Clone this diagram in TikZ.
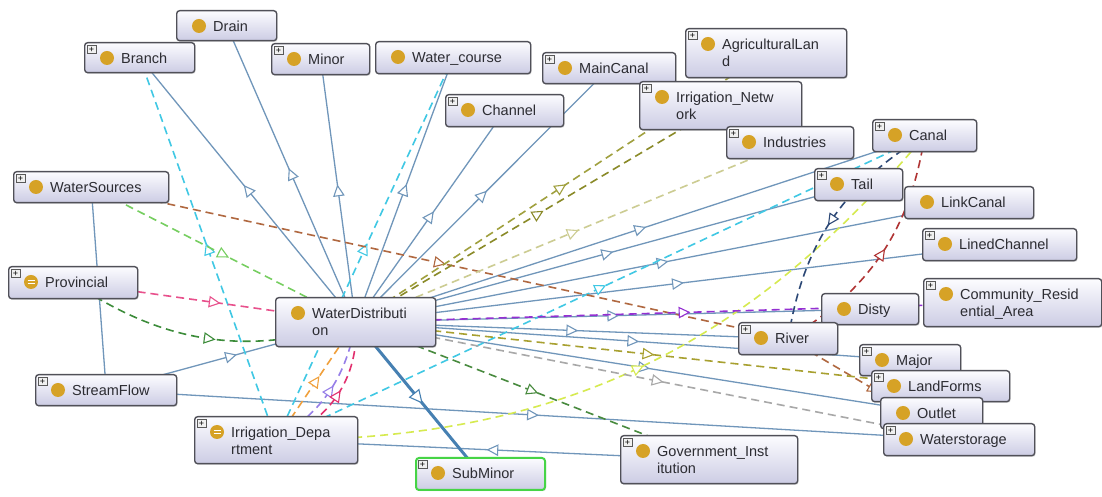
\documentclass[tikz,border=0pt]{standalone}
\usepackage{fontspec}
\setmainfont{Liberation Sans}
\usetikzlibrary{decorations.markings,shadows}

\pgfdeclarelayer{background}
\pgfdeclarelayer{edges}
\pgfsetlayers{background,edges,main}

% palette
\definecolor{boxline}{RGB}{80,80,88}
\definecolor{boxtop}{RGB}{252,252,255}
\definecolor{boxbottom}{RGB}{204,204,228}
\definecolor{labeltext}{RGB}{44,44,50}
\definecolor{gold}{RGB}{214,162,38}
\definecolor{subline}{RGB}{112,150,186}
\definecolor{thickline}{RGB}{70,128,178}
\definecolor{greenframe}{RGB}{70,212,70}
\definecolor{cyanE}{RGB}{64,200,228}
\definecolor{yellowE}{RGB}{214,234,80}
\definecolor{redE}{RGB}{176,52,52}
\definecolor{navyE}{RGB}{44,72,118}
\definecolor{brownE}{RGB}{176,104,64}
\definecolor{greenE}{RGB}{118,206,96}
\definecolor{pinkE}{RGB}{232,80,140}
\definecolor{dkgreenE}{RGB}{60,140,58}
\definecolor{orangeE}{RGB}{240,160,60}
\definecolor{lavE}{RGB}{150,126,232}
\definecolor{crimE}{RGB}{226,48,110}
\definecolor{oliveA}{RGB}{160,160,62}
\definecolor{oliveB}{RGB}{138,138,40}
\definecolor{khakiE}{RGB}{204,204,146}
\definecolor{purpleE}{RGB}{148,48,210}
\definecolor{oliveC}{RGB}{168,160,48}
\definecolor{grayE}{RGB}{168,168,168}
\definecolor{govgreen}{RGB}{72,138,62}

\tikzset{
  cls/.style={draw=boxline, line width=1.4pt, rounded corners=3pt,
    top color=boxtop, bottom color=boxbottom, anchor=north west, inner sep=0pt,
    drop shadow={opacity=0.25, shadow xshift=1pt, shadow yshift=-1.2pt}},
  dot/.style={circle, fill=gold, minimum size=14pt, inner sep=0pt},
  plusbox/.style={draw=gray!70!black, fill=gray!12, line width=0.5pt,
    minimum size=8.5pt, inner sep=0pt, anchor=north west,
    font=\fontsize{9}{9}\selectfont},
  lbl/.style={anchor=base west, inner sep=0pt, text=labeltext,
    font=\fontsize{14.5}{17}\selectfont},
  midarrow/.style={postaction={decorate}, decoration={markings,
    mark=at position 0.5 with {\draw[solid, line width=1.1pt, fill=white]
      (#1,0) -- (-#1,#1) -- (-#1,-#1) -- cycle;}}},
  midarrow/.default=5pt,
  sub/.style={color=subline, line width=1.3pt, midarrow},
  subthick/.style={color=thickline, line width=3pt, midarrow=6pt},
  rel/.style={line width=1.6pt, dash pattern=on 8pt off 5pt, midarrow},
}

% class box: options, name, x, y (from top), width, height, first line
\newcommand{\owlbox}[7][]{%
  \node[cls, minimum width=#5pt, minimum height=#6pt, #1] (#2) at (#3,-#4) {};
  \node[dot] (#2-i) at ({#3+23},{-#4-16}) {};
  \node[lbl] (#2-t) at ({#3+37},{-#4-21.5}) {#7};
}
% second text line: name, x, y, text
\newcommand{\owlsecond}[4]{\node[lbl] (#1-u) at ({#2+37},{-#3-38.5}) {#4};}
% expand marker: name, x, y
\newcommand{\owlplus}[3]{\node[plusbox] (#1-p) at ({#2+3},{-#3-3}) {+};}
% equivalence marks on the class icon
\newcommand{\owleq}[1]{%
  \draw[white, line width=1.3pt] ([xshift=-3.5pt,yshift=1.8pt]#1-i.center) -- ++(7pt,0);
  \draw[white, line width=1.3pt] ([xshift=-3.5pt,yshift=-1.8pt]#1-i.center) -- ++(7pt,0);
}

\begin{document}
\begin{tikzpicture}[x=1pt,y=1pt]
\begin{scope}[shift={(0,497)}]
\useasboundingbox (0,0) rectangle (1102,-497);
\begin{pgfonlayer}{background}
  \fill[white] (0,0) rectangle (1102,-497);
\end{pgfonlayer}

% ---- classes ----
\owlbox{drain}{176}{10}{100}{30}{Drain}
\owlbox{branch}{84}{42}{110}{30}{Branch}\owlplus{branch}{84}{42}
\owlbox{minor}{271}{43}{98}{31}{Minor}\owlplus{minor}{271}{43}
\owlbox{watercourse}{375}{41}{155}{32}{Water\_course}
\owlbox{maincanal}{542}{52}{133}{31}{MainCanal}\owlplus{maincanal}{542}{52}
\owlbox{channel}{445}{94}{118}{32}{Channel}\owlplus{channel}{445}{94}
\owlbox{agri}{685}{28}{161}{49}{AgriculturalLan}\owlsecond{agri}{685}{28}{d}\owlplus{agri}{685}{28}
\owlbox{irrnet}{639}{81}{162}{48}{Irrigation\_Netw}\owlsecond{irrnet}{639}{81}{ork}\owlplus{irrnet}{639}{81}
\owlbox{industries}{726}{126}{127}{32}{Industries}\owlplus{industries}{726}{126}
\owlbox{canal}{872}{119}{104}{32}{Canal}\owlplus{canal}{872}{119}
\owlbox{tail}{814}{168}{88}{32}{Tail}\owlplus{tail}{814}{168}
\owlbox{linkcanal}{904}{186}{129}{32}{LinkCanal}
\owlbox{linedchannel}{922}{228}{154}{32}{LinedChannel}\owlplus{linedchannel}{922}{228}
\owlbox{community}{923}{278}{178}{48}{Community\_Resid}\owlsecond{community}{923}{278}{ential\_Area}\owlplus{community}{923}{278}
\owlbox{disty}{821}{293}{97}{31}{Disty}
\owlbox{river}{738}{322}{99}{32}{River}\owlplus{river}{738}{322}
\owlbox{major}{859}{344}{101}{31}{Major}\owlplus{major}{859}{344}
\owlbox{landforms}{871}{370}{138}{31}{LandForms}\owlplus{landforms}{871}{370}
\owlbox{outlet}{880}{397}{102}{31}{Outlet}
\owlbox{waterstorage}{883}{423}{151}{32}{Waterstorage}\owlplus{waterstorage}{883}{423}
\owlbox{government}{620}{435}{177}{48}{Government\_Inst}\owlsecond{government}{620}{435}{itution}\owlplus{government}{620}{435}
\owlbox[draw=greenframe, line width=2pt]{subminor}{415}{457}{129}{32}{SubMinor}\owlplus{subminor}{415}{457}
\owlbox{irrdept}{194}{416}{163}{47}{Irrigation\_Depa}\owlsecond{irrdept}{194}{416}{rtment}\owlplus{irrdept}{194}{416}\owleq{irrdept}
\owlbox{streamflow}{35}{374}{141}{31}{StreamFlow}\owlplus{streamflow}{35}{374}
\owlbox{provincial}{8}{266}{129}{32}{Provincial}\owlplus{provincial}{8}{266}\owleq{provincial}
\owlbox{watersources}{13}{171}{155}{31}{WaterSources}\owlplus{watersources}{13}{171}
\owlbox{wd}{275}{297}{160}{49}{WaterDistributi}\owlsecond{wd}{275}{297}{on}

% ---- connectors ----
\begin{pgfonlayer}{edges}
  % subclass links
  \foreach \t in {branch,drain,minor,watercourse,channel,maincanal,canal,tail,
                  linkcanal,linedchannel,disty,river,major,outlet}
    \draw[sub] (wd.center) -- (\t.center);
  \draw[sub] (streamflow.center) -- (wd.center);
  \draw[sub] (watersources.center) -- (streamflow.center);
  \draw[sub] (streamflow.center) -- (waterstorage.center);
  \draw[sub] (government.center) -- (irrdept.center);
  \draw[subthick] (wd.center) -- (subminor.center);

  % property links
  \draw[rel, color=cyanE] (irrdept.center) -- (branch.center);
  \draw[rel, color=cyanE] (irrdept.center) -- (watercourse.center);
  \draw[rel, color=cyanE] (irrdept.center) -- (canal.center);
  \draw[rel, color=yellowE] (irrdept.center) to[bend right=25] (canal.center);
  \draw[rel, color=orangeE] (irrdept.center) -- (wd.center);
  \draw[rel, color=lavE] (irrdept.center) to[bend right=24] (wd.center);
  \draw[rel, color=crimE] (irrdept.center) to[bend right=38] (wd.center);
  \draw[rel, color=pinkE] (provincial.center) -- (wd.center);
  \draw[rel, color=dkgreenE] (provincial.center) to[bend right=26] (wd.center);
  \draw[rel, color=greenE] (watersources.center) -- (wd.center);
  \draw[rel, color=brownE] (watersources.center) -- (river.center);
  \draw[rel, color=brownE] (river.center) -- (waterstorage.center);
  \draw[rel, color=oliveA] (wd.center) -- (agri.center);
  \draw[rel, color=oliveB] (wd.center) -- (irrnet.center);
  \draw[rel, color=khakiE] (wd.center) -- (industries.center);
  \draw[rel, color=purpleE] (wd.center) -- (community.center);
  \draw[rel, color=oliveC] (wd.center) -- (landforms.center);
  \draw[rel, color=grayE] (wd.center) -- (waterstorage.center);
  \draw[rel, color=govgreen] (wd.center) -- (government.center);
  \draw[rel, color=redE] (river.center) to[bend right=25] (canal.center);
  \draw[rel, color=navyE] (canal.center) to[bend right=25] (river.center);
\end{pgfonlayer}
\end{scope}
\end{tikzpicture}
\end{document}
